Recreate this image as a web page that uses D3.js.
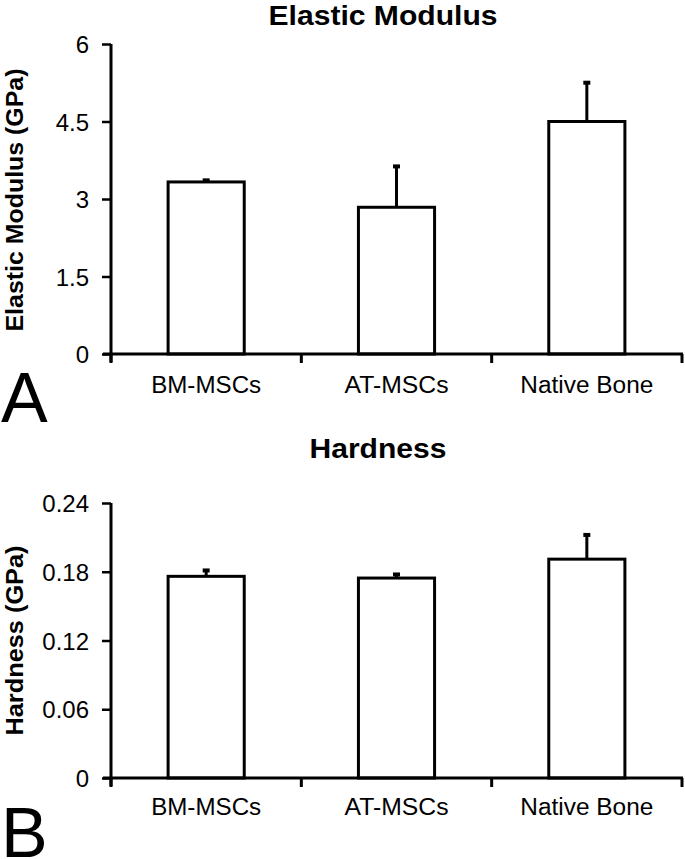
<!DOCTYPE html>
<html><head><meta charset="utf-8">
<script src="https://cdn.jsdelivr.net/npm/d3@7"></script>
<style>body{margin:0;background:#fff}svg{display:block}text{font-family:"Liberation Sans",Arial,sans-serif;fill:#000}</style>
</head><body><svg id="c" width="685" height="859"></svg>
<script>
const categories = ["BM-MSCs", "AT-MSCs", "Native Bone"];
const modulusValues = [3.33, 2.84, 4.50];
const modulusErrors = [0.05, 0.81, 0.77];
const modulusTicks = [0, 1.5, 3, 4.5, 6];
const modulusTickLabels = ["0", "1.5", "3", "4.5", "6"];
const hardnessValues = [0.176, 0.1745, 0.191];
const hardnessErrors = [0.006, 0.004, 0.022];
const hardnessTicks = [0, 0.06, 0.12, 0.18, 0.24];
const hardnessTickLabels = ["0", "0.06", "0.12", "0.18", "0.24"];

const svg = d3.select("#c");
const catWidths = [110, 104, 133];

function panel(cfg) {
  const g = svg.append("g");
  const x = d3.scaleBand().domain(categories).range([111, 682]).paddingInner(0.6).paddingOuter(0.3);
  const y = d3.scaleLinear().domain([0, cfg.max]).range([cfg.y0, cfg.y1]);
  const data = categories.map((c, i) => ({c, v: cfg.values[i], e: cfg.errors[i]}));

  // error bars (upper only)
  g.selectAll(".err").data(data).join("line")
    .attr("x1", d => x(d.c) + x.bandwidth() / 2).attr("x2", d => x(d.c) + x.bandwidth() / 2)
    .attr("y1", d => y(d.v)).attr("y2", d => y(d.v + d.e))
    .attr("stroke", "#000").attr("stroke-width", 3);
  g.selectAll(".cap").data(data).join("rect")
    .attr("x", d => x(d.c) + x.bandwidth() / 2 - 3.5).attr("y", d => y(d.v + d.e) - 1)
    .attr("width", 7).attr("height", 4).attr("fill", "#000");

  // bars
  g.selectAll(".bar").data(data).join("rect")
    .attr("x", d => x(d.c)).attr("width", x.bandwidth())
    .attr("y", d => y(d.v)).attr("height", d => y(0) - y(d.v))
    .attr("fill", "#fff").attr("stroke", "#000").attr("stroke-width", 3);

  // y axis
  const ya = g.append("g").attr("transform", "translate(111,0)")
    .call(d3.axisLeft(y).tickValues(cfg.ticks).tickFormat((d, i) => cfg.tickLabels[i]).tickSize(9).tickPadding(13));
  ya.select(".domain").attr("d", `M0,${cfg.y1}V${cfg.y0 + 8}`).attr("stroke-width", 3);
  ya.selectAll(".tick line").attr("stroke-width", 2.5);
  ya.selectAll("text").attr("font-size", 24).attr("fill", "#111").attr("dy", "0.36em");

  // x axis
  const xa = g.append("g").attr("transform", `translate(0,${cfg.y0})`);
  xa.append("line").attr("x1", 103).attr("x2", 683).attr("stroke", "#000").attr("stroke-width", 3);
  const bounds = [x.range()[0]].concat(categories.map(c => x(c) + x.bandwidth() / 2 + x.step() / 2));
  xa.selectAll(".xt").data(bounds).join("line")
    .attr("x1", d => d).attr("x2", d => d).attr("y1", 0).attr("y2", 9)
    .attr("stroke", "#000").attr("stroke-width", 3);
  xa.selectAll(".xl").data(categories).join("text")
    .attr("x", d => x(d) + x.bandwidth() / 2).attr("y", cfg.catDy)
    .attr("text-anchor", "middle").attr("font-size", 23).attr("fill", "#111")
    .attr("textLength", (d, i) => catWidths[i]).attr("lengthAdjust", "spacingAndGlyphs").text(d => d);

  // titles
  g.append("text").attr("x", cfg.titleX).attr("y", cfg.titleY).attr("text-anchor", "middle")
    .attr("font-size", 27).attr("font-weight", "bold")
    .attr("textLength", cfg.titleW).attr("lengthAdjust", "spacingAndGlyphs").text(cfg.title);
  g.append("text").attr("transform", `translate(23,${(cfg.y0 + cfg.y1) / 2 + cfg.labelShift}) rotate(-90)`)
    .attr("text-anchor", "middle").attr("font-size", 24).attr("font-weight", "bold")
    .attr("textLength", cfg.labelW).attr("lengthAdjust", "spacingAndGlyphs").text(cfg.ylabel);
  g.append("text").attr("x", 1).attr("y", cfg.letterY).attr("font-size", 70).text(cfg.letter);
}

panel({values: modulusValues, errors: modulusErrors, max: 6, ticks: modulusTicks, tickLabels: modulusTickLabels,
  y0: 354, y1: 44, title: "Elastic Modulus", titleX: 383, titleY: 25, titleW: 229, ylabel: "Elastic Modulus (GPa)",
  labelW: 263, labelShift: 1, letter: "A", letterY: 422, catDy: 39});
panel({values: hardnessValues, errors: hardnessErrors, max: 0.24, ticks: hardnessTicks, tickLabels: hardnessTickLabels,
  y0: 778, y1: 503, title: "Hardness", titleX: 378, titleY: 458, titleW: 137, ylabel: "Hardness (GPa)",
  labelW: 190, labelShift: 0, letter: "B", letterY: 857, catDy: 37});
</script></body></html>
